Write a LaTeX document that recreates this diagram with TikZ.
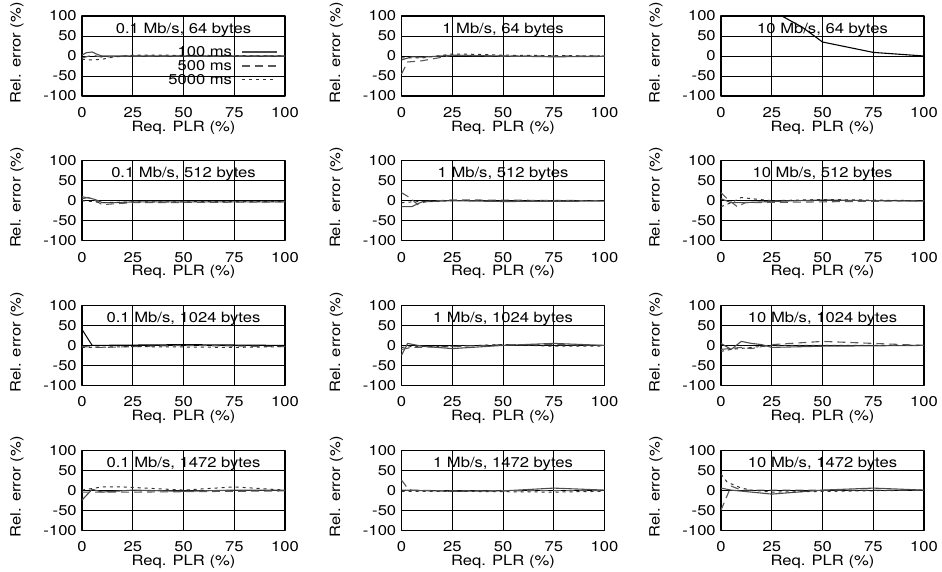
\documentclass[tikz,border=0pt]{standalone}
\usepackage{fontspec}
\setmainfont{TeX Gyre Heros}[FakeStretch=1.17]
\usetikzlibrary{positioning}

\begin{document}
\begin{tikzpicture}[x=1pt, y=-1pt, line join=round,
    font=\fontsize{14.2}{15}\selectfont,
    panel/.style 2 args={shift={(82+319.5*#1,56+144.7*#2)}, x=2.03pt, y=0.4pt},
    gridline/.style={black, line width=0.8pt},
    frame/.style={black, line width=1.2pt},
    lbl/.style={inner sep=0pt},
    ms100/.style={black!70, line width=1.1pt},
    ms500/.style={black!65, line width=1.1pt, dash pattern=on 8pt off 5pt},
    ms5000/.style={black!80, line width=1pt, dash pattern=on 3pt off 4pt}]
    \useasboundingbox (0,0) rectangle (942,572);

    % frames, grid and labels of the twelve panels
    \foreach \rate [count=\c from 0] in {0.1,1,10} {
      \foreach \size [count=\r from 0] in {64,512,1024,1472} {
        \begin{scope}[panel={\c}{\r}]
          \draw[gridline] (0,-50) -- (100,-50) (0,0) -- (100,0) (0,50) -- (100,50);
          \draw[gridline] (25,-100) -- (25,100) (50,-100) -- (50,100) (75,-100) -- (75,100);
          \draw[frame] (0,-100) rectangle (100,100);
          \foreach \v in {-100,-50,0,50,100}
            \node[lbl, anchor=east] (ytick-\c-\r-\v) at (-2.5,\v) {\v};
          \foreach \v in {0,25,50,75,100}
            \node[lbl] (xtick-\c-\r-\v) at (\v,-141.5) {\v};
          \node[lbl] (xlabel-\c-\r) at (50,-179) {Req. PLR (\%)};
          \node[lbl, rotate=90] (ylabel-\c-\r) at (-32,8) {Rel. error (\%)};
          \node[lbl] (title-\c-\r) at (50,66) {\rate\ Mb/s, \size\ bytes};
        \end{scope}
      }
    }

    % 0.1 Mb/s, 64 bytes (with legend)
    \begin{scope}[panel={0}{0}]
      \draw[ms100] (0,2) -- (2,8) -- (5,10) -- (8,3) -- (10,0) -- (25,0) -- (100,0);
      \draw[ms500] (0,-5) -- (5,2) -- (10,-3) -- (20,0) -- (100,0);
      \draw[ms5000] (0,-8) -- (5,-10) -- (10,-8) -- (15,-3) -- (25,2) -- (40,2) -- (100,0);
      \node[lbl, anchor=east] (leg100) at (74,10) {100 ms};
      \node[lbl, anchor=east] (leg500) at (74,-24) {500 ms};
      \node[lbl, anchor=east] (leg5000) at (74,-59) {5000 ms};
      \draw[ms100] (79,10) -- (96,10);
      \draw[ms500] (79,-25) -- (96,-25);
      \draw[ms5000] (79,-60) -- (96,-60);
    \end{scope}

    % 1 Mb/s, 64 bytes
    \begin{scope}[panel={1}{0}]
      \draw[ms100] (0,-10) -- (5,-2) -- (10,-3) -- (25,2) -- (50,0) -- (75,-2) -- (100,-1);
      \draw[ms500] (0,-45) -- (3,-15) -- (10,-12) -- (20,-3) -- (25,2) -- (50,0) -- (100,0);
      \draw[ms5000] (0,-5) -- (10,-5) -- (25,5) -- (40,4) -- (50,2) -- (100,0);
    \end{scope}

    % 10 Mb/s, 64 bytes
    \begin{scope}[panel={2}{0}]
      \draw[black, line width=1.1pt] (30,100) -- (40,72) -- (50,35) -- (75,9) -- (100,0);
    \end{scope}

    % 0.1 Mb/s, 512 bytes
    \begin{scope}[panel={0}{1}]
      \draw[ms100] (0,5) -- (3,8) -- (7,2) -- (10,-5) -- (15,-5) -- (25,-3) -- (100,-3);
      \draw[ms500] (0,10) -- (5,5) -- (10,-10) -- (15,-8) -- (25,-5) -- (100,-3);
      \draw[ms5000] (0,0) -- (5,-2) -- (10,-5) -- (25,-3) -- (100,-2);
    \end{scope}

    % 1 Mb/s, 512 bytes
    \begin{scope}[panel={1}{1}]
      \draw[ms100] (0,-15) -- (5,-15) -- (10,-3) -- (25,0) -- (50,-2) -- (100,-1);
      \draw[ms500] (0,20) -- (4,8) -- (8,-10) -- (12,-2) -- (25,2) -- (100,0);
      \draw[ms5000] (0,-5) -- (5,-3) -- (25,0) -- (100,0);
    \end{scope}

    % 10 Mb/s, 512 bytes
    \begin{scope}[panel={2}{1}]
      \draw[ms100] (0,5) -- (5,-5) -- (10,-5) -- (25,-2) -- (50,2) -- (75,0) -- (100,-1);
      \draw[ms500] (0,20) -- (3,5) -- (8,-15) -- (12,-5) -- (100,0);
      \draw[ms5000] (0,-15) -- (5,-5) -- (10,8) -- (15,5) -- (25,0) -- (50,3) -- (100,0);
    \end{scope}

    % 0.1 Mb/s, 1024 bytes
    \begin{scope}[panel={0}{2}]
      \draw[black, line width=1pt] (0,40) -- (5,0) -- (50,2) -- (100,0);
      \draw[ms500] (0,-3) -- (10,-5) -- (25,-3) -- (50,0) -- (100,-3);
      \draw[ms5000] (0,-5) -- (25,-3) -- (75,-5) -- (100,-3);
    \end{scope}

    % 1 Mb/s, 1024 bytes
    \begin{scope}[panel={1}{2}]
      \draw[ms100] (0,-25) -- (3,5) -- (10,-2) -- (25,-8) -- (50,0) -- (75,5) -- (100,0);
      \draw[ms500] (0,-10) -- (5,-5) -- (25,-3) -- (50,2) -- (75,2) -- (100,0);
      \draw[ms5000] (0,-5) -- (5,-3) -- (25,-2) -- (50,2) -- (75,-2) -- (100,-2);
    \end{scope}

    % 10 Mb/s, 1024 bytes
    \begin{scope}[panel={2}{2}]
      \draw[ms100] (0,5) -- (5,-10) -- (10,10) -- (15,5) -- (20,2) -- (25,-5) -- (50,-2) -- (100,0);
      \draw[ms500] (0,-10) -- (10,-5) -- (15,-8) -- (25,2) -- (50,10) -- (75,5) -- (100,0);
      \draw[ms5000] (0,-15) -- (5,-10) -- (25,0) -- (100,0);
    \end{scope}

    % 0.1 Mb/s, 1472 bytes
    \begin{scope}[panel={0}{3}]
      \draw[ms100] (0,-25) -- (5,2) -- (10,-5) -- (25,0) -- (50,-3) -- (75,0) -- (100,0);
      \draw[ms500] (0,-5) -- (10,-5) -- (25,-5) -- (100,-2);
      \draw[ms5000] (0,0) -- (10,8) -- (20,8) -- (50,0) -- (75,8) -- (100,0);
    \end{scope}

    % 1 Mb/s, 1472 bytes
    \begin{scope}[panel={1}{3}]
      \draw[ms100] (0,0) -- (25,-3) -- (50,-2) -- (75,5) -- (100,0);
      \draw[ms500] (0,25) -- (3,5) -- (5,0) -- (25,-2) -- (100,-1);
      \draw[ms5000] (0,-3) -- (25,-3) -- (75,-5) -- (100,-3);
    \end{scope}

    % 10 Mb/s, 1472 bytes
    \begin{scope}[panel={2}{3}]
      \draw[ms100] (0,5) -- (5,0) -- (25,-10) -- (50,0) -- (75,5) -- (100,0);
      \draw[ms500] (0,-50) -- (5,10) -- (10,0) -- (100,0);
      \draw[ms5000] (0,40) -- (3,20) -- (10,5) -- (15,0) -- (25,-5) -- (100,0);
    \end{scope}
\end{tikzpicture}
\end{document}
